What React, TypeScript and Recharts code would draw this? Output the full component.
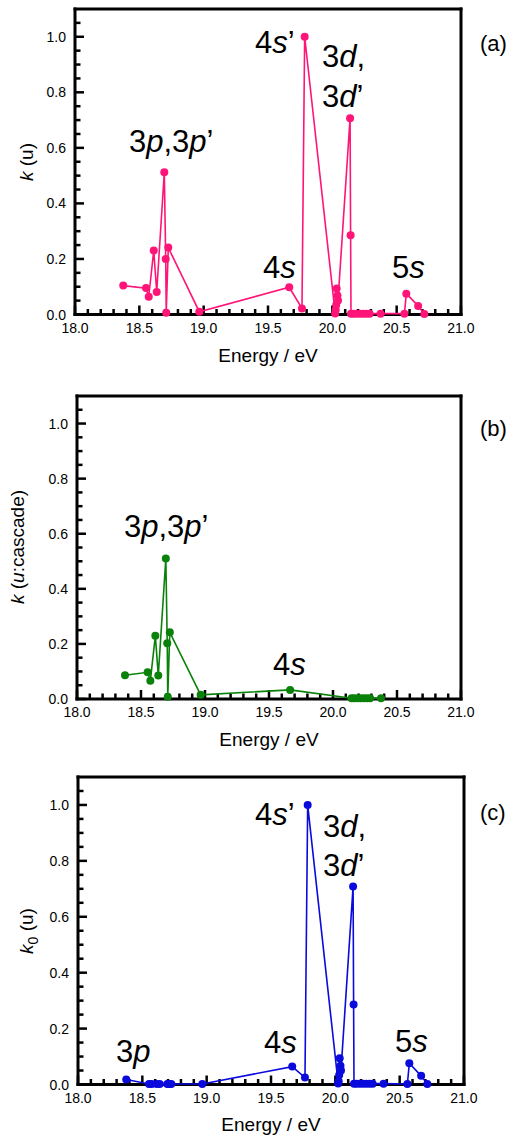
import React from 'react'
import { LineChart, Line, XAxis, YAxis } from 'recharts'

// energies (eV) shared by panels (a) and (c)
const energyAll = [
  18.375, 18.552, 18.573, 18.612, 18.635, 18.694, 18.705, 18.709, 18.725,
  18.966, 19.665, 19.764, 19.785, 20.022, 20.026, 20.03, 20.034, 20.04,
  20.044, 20.138, 20.142, 20.145, 20.165, 20.19, 20.215, 20.24, 20.265,
  20.29, 20.375, 20.56, 20.575, 20.667, 20.715,
]
// k (u)
const kTotal = [
  0.104, 0.095, 0.064, 0.23, 0.081, 0.512, 0.2, 0.006, 0.241,
  0.01, 0.098, 0.022, 1.0, 0.004, 0.016, 0.034, 0.094, 0.068,
  0.05, 0.707, 0.285, 0.003, 0.003, 0.003, 0.003, 0.003, 0.003,
  0.003, 0.003, 0.003, 0.075, 0.031, 0.002,
]
// k0 (u)
const kDirect = [
  0.018, 0.002, 0.002, 0.002, 0.002, 0.002, 0.002, 0.002, 0.002,
  0.002, 0.064, 0.025, 1.0, 0.004, 0.012, 0.034, 0.094, 0.067,
  0.05, 0.708, 0.286, 0.003, 0.003, 0.003, 0.003, 0.003, 0.003,
  0.003, 0.003, 0.002, 0.076, 0.031, 0.002,
]
// cascade panel (b)
const energyCascade = [
  18.375, 18.552, 18.573, 18.612, 18.635, 18.694, 18.705, 18.709, 18.725,
  18.966, 19.665, 20.145, 20.165, 20.19, 20.215, 20.24, 20.265, 20.29,
  20.375,
]
const kCascade = [
  0.086, 0.097, 0.066, 0.23, 0.085, 0.51, 0.202, 0.008, 0.242,
  0.015, 0.033, 0.003, 0.003, 0.003, 0.003, 0.003, 0.003, 0.003,
  0.003,
]

const xMajor = [18, 18.5, 19, 19.5, 20, 20.5, 21]
const yMajor = [0, 0.2, 0.4, 0.6, 0.8, 1.0]

const FONT = '"Liberation Sans", Arial, sans-serif'

const round2 = (v: number) => Math.round(v * 100) / 100
const xTicks: number[] = []
for (let i = 0; i <= 30; i++) xTicks.push(round2(18 + i * 0.1))
// keep the right-edge tick just inside the range so it is never dropped
xTicks[xTicks.length - 1] = 20.9995
const yTicks: number[] = []
for (let i = 0; i <= 21; i++) yTicks.push(round2(i * 0.05))

const isMajor = (v: number, list: number[]) =>
  list.some((m) => Math.abs(m - v) < 0.005)

const XTick = (props: any) => {
  const { x, y, payload } = props
  const major = isMajor(payload.value, xMajor)
  return (
    <g>
      <line
        x1={x}
        x2={x}
        y1={y}
        y2={y - (major ? 9 : 5.5)}
        stroke="#000"
        strokeWidth={2.5}
      />
      {major && (
        <text
          x={x}
          y={y + 18}
          textAnchor="middle"
          fontSize={14}
          fontFamily={FONT}
          fill="#000"
        >
          {payload.value.toFixed(1)}
        </text>
      )}
    </g>
  )
}

const YTick = (props: any) => {
  const { x, y, payload } = props
  const major = isMajor(payload.value, yMajor)
  return (
    <g>
      <line
        x1={x}
        x2={x + (major ? 9 : 5.5)}
        y1={y}
        y2={y}
        stroke="#000"
        strokeWidth={2.5}
      />
      {major && (
        <text
          x={x - 9}
          y={y + 5}
          textAnchor="end"
          fontSize={14}
          fontFamily={FONT}
          fill="#000"
        >
          {payload.value.toFixed(1)}
        </text>
      )}
    </g>
  )
}

type PanelProps = {
  energy: number[]
  k: number[]
  color: string
  top: number
  height: number
  // plot rectangle inside the panel
  plot: { top: number; right: number; bottom: number; left: number }
}

const frame = { stroke: '#000', strokeWidth: 3, strokeLinecap: 'square' as const }
const layer: React.CSSProperties = { position: 'absolute', left: 0, top: 0 }

const Panel = ({ energy, k, color, top, height, plot }: PanelProps) => {
  const data = energy.map((e, i) => ({ e, k: k[i] }))
  // axes take 1px each (recharts skips 0-sized axes)
  const margin = {
    top: plot.top - 1,
    left: plot.left - 1,
    right: 520 - plot.right - 1,
    bottom: height - plot.bottom - 1,
  }
  return (
    <div style={{ position: 'absolute', left: 0, top, width: 520, height }}>
      {/* frame and ticks */}
      <div style={layer}>
        <LineChart width={520} height={height} data={data} margin={margin}>
          <XAxis
            xAxisId="b"
            dataKey="e"
            type="number"
            domain={[18, 21]}
            ticks={xTicks}
            interval={0}
            tick={(p: any) => <XTick {...p} />}
            tickSize={0}
            tickMargin={0}
            tickLine={false}
            height={1}
            axisLine={frame}
            allowDataOverflow
          />
          <XAxis
            xAxisId="t"
            dataKey="e"
            orientation="top"
            type="number"
            domain={[18, 21]}
            tick={false}
            tickLine={false}
            height={1}
            axisLine={frame}
            allowDataOverflow
          />
          <YAxis
            yAxisId="l"
            type="number"
            domain={[0, 1.1]}
            ticks={yTicks}
            interval={0}
            tick={(p: any) => <YTick {...p} />}
            tickSize={0}
            tickMargin={0}
            tickLine={false}
            width={1}
            axisLine={frame}
            allowDataOverflow
          />
          <YAxis
            yAxisId="r"
            orientation="right"
            type="number"
            domain={[0, 1.1]}
            tick={false}
            tickLine={false}
            width={1}
            axisLine={frame}
            allowDataOverflow
          />
        </LineChart>
      </div>
      {/* data on top so markers sit over the axis (no clipping) */}
      <div style={layer}>
        <LineChart width={520} height={height} data={data} margin={margin}>
          <XAxis
            dataKey="e"
            type="number"
            domain={[18, 21]}
            tick={false}
            tickLine={false}
            axisLine={false}
            height={1}
          />
          <XAxis
            xAxisId="t"
            orientation="top"
            type="number"
            domain={[18, 21]}
            tick={false}
            tickLine={false}
            axisLine={false}
            height={1}
          />
          <YAxis
            type="number"
            domain={[0, 1.1]}
            tick={false}
            tickLine={false}
            axisLine={false}
            width={1}
          />
          <YAxis
            yAxisId="r"
            orientation="right"
            type="number"
            domain={[0, 1.1]}
            tick={false}
            tickLine={false}
            axisLine={false}
            width={1}
          />
          <Line
            dataKey="k"
            type="linear"
            stroke={color}
            strokeWidth={1.6}
            dot={{ r: 4, fill: color, stroke: color, strokeWidth: 0 }}
            activeDot={false}
            isAnimationActive={false}
          />
        </LineChart>
      </div>
    </div>
  )
}

const AN = 31

const Overlay = () => (
  <svg
    width={520}
    height={1140}
    style={{ position: 'absolute', left: 0, top: 0, pointerEvents: 'none' }}
    fontFamily={FONT}
    fill="#000"
  >
    {/* panel (a) */}
    <text x={129} y={152} fontSize={AN}>
      3<tspan fontStyle="italic">p</tspan>,3<tspan fontStyle="italic">p</tspan>’
    </text>
    <text x={255} y={53} fontSize={AN}>
      4<tspan fontStyle="italic">s</tspan>’
    </text>
    <text x={322} y={67} fontSize={AN}>
      3<tspan fontStyle="italic">d</tspan>,
    </text>
    <text x={322} y={107} fontSize={AN}>
      3<tspan fontStyle="italic">d</tspan>’
    </text>
    <text x={263} y={278} fontSize={AN}>
      4<tspan fontStyle="italic">s</tspan>
    </text>
    <text x={392} y={278} fontSize={AN}>
      5<tspan fontStyle="italic">s</tspan>
    </text>
    <text x={480} y={51} fontSize={22}>(a)</text>
    <text x={268} y={362} fontSize={19} textAnchor="middle">Energy / eV</text>
    <text x={33} y={162} fontSize={19} textAnchor="middle" transform="rotate(-90 33 162)">
      <tspan fontStyle="italic">k</tspan> (u)
    </text>

    {/* panel (b) */}
    <text x={124} y={537} fontSize={AN}>
      3<tspan fontStyle="italic">p</tspan>,3<tspan fontStyle="italic">p</tspan>’
    </text>
    <text x={273} y={675} fontSize={AN}>
      4<tspan fontStyle="italic">s</tspan>
    </text>
    <text x={480} y={436} fontSize={22}>(b)</text>
    <text x={269} y={746} fontSize={19} textAnchor="middle">Energy / eV</text>
    <text x={24} y={547} fontSize={19} textAnchor="middle" transform="rotate(-90 24 547)">
      <tspan fontStyle="italic">k</tspan> (<tspan fontStyle="italic">u</tspan>:cascade)
    </text>

    {/* panel (c) */}
    <text x={255} y={825} fontSize={AN}>
      4<tspan fontStyle="italic">s</tspan>’
    </text>
    <text x={323} y={837} fontSize={AN}>
      3<tspan fontStyle="italic">d</tspan>,
    </text>
    <text x={323} y={876} fontSize={AN}>
      3<tspan fontStyle="italic">d</tspan>’
    </text>
    <text x={264} y={1053} fontSize={AN}>
      4<tspan fontStyle="italic">s</tspan>
    </text>
    <text x={395} y={1052} fontSize={AN}>
      5<tspan fontStyle="italic">s</tspan>
    </text>
    <text x={116} y={1062} fontSize={AN}>
      3<tspan fontStyle="italic">p</tspan>
    </text>
    <text x={480} y={820} fontSize={22}>(c)</text>
    <text x={271} y={1131} fontSize={19} textAnchor="middle">Energy / eV</text>
    <text x={33} y={931} fontSize={19} textAnchor="middle" transform="rotate(-90 33 931)">
      <tspan fontStyle="italic">k</tspan>
      <tspan dy={5} fontSize={14}>0</tspan>
      <tspan dy={-5}> (u)</tspan>
    </text>
  </svg>
)

export default function App() {
  return (
    <div
      style={{
        position: 'absolute',
        left: 0,
        top: 0,
        width: 520,
        height: 1140,
        background: '#fff',
      }}
    >
      <Panel
        energy={energyAll}
        k={kTotal}
        color="#FF1478"
        top={0}
        height={380}
        plot={{ top: 9, right: 461, bottom: 314.5, left: 75 }}
      />
      <Panel
        energy={energyCascade}
        k={kCascade}
        color="#0A820A"
        top={380}
        height={380}
        plot={{ top: 16, right: 461, bottom: 319, left: 77 }}
      />
      <Panel
        energy={energyAll}
        k={kDirect}
        color="#0A0ADC"
        top={760}
        height={380}
        plot={{ top: 17, right: 464, bottom: 324.5, left: 78 }}
      />
      <Overlay />
    </div>
  )
}
